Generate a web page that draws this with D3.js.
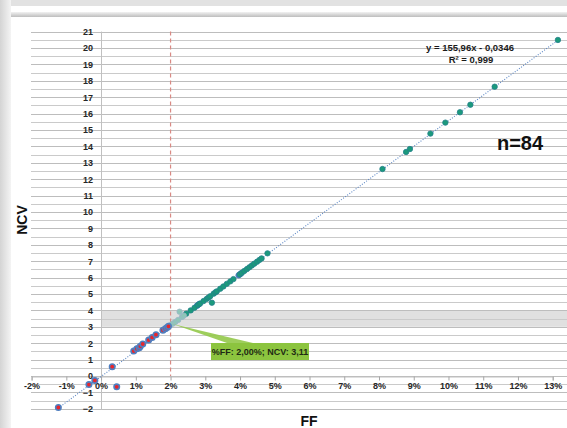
<!DOCTYPE html>
<html>
<head>
<meta charset="utf-8">
<script src="https://cdn.jsdelivr.net/npm/d3@7"></script>
<style>
  body { margin:0; background:#fff; }
  svg { display:block; }
</style>
</head>
<body>
<div id="chart"></div>
<script>

// FF (%) y NCV
var redFF  = [-1.23, -0.35, -0.18, 0.45, 0.32, 0.94, 1.03, 1.10, 1.13, 1.20, 1.37, 1.47, 1.58, 1.78, 1.85, 1.90, 1.94];
var redNCV = [-1.92, -0.52, -0.27, -0.66, 0.57, 1.52, 1.66, 1.72, 1.82, 1.95, 2.19, 2.35, 2.52, 2.79, 2.88, 2.95, 3.03];

var lightFF  = [2.00, 2.07, 2.14, 2.22, 2.26, 2.33, 2.38];
var lightNCV = [3.11, 3.20, 3.30, 3.42, 3.92, 3.60, 3.68];

var tealFF  = [2.45, 2.58, 2.69, 2.79, 2.85, 2.95, 3.04, 3.09, 3.14, 3.19, 3.24, 3.29, 3.33, 3.43, 3.52, 3.62, 3.72, 3.81,
               3.99, 4.05, 4.12, 4.20, 4.27, 4.34, 4.41, 4.49, 4.56, 4.62, 4.79, 8.10, 8.78, 8.89, 9.48, 9.91, 10.33, 10.63, 11.33, 13.15];
var tealNCV = [3.80, 4.00, 4.16, 4.33, 4.42, 4.57, 4.70, 4.78, 4.86, 4.47, 5.02, 5.10, 5.16, 5.32, 5.46, 5.62, 5.77, 5.91,
               6.19, 6.29, 6.40, 6.52, 6.63, 6.74, 6.85, 6.97, 7.08, 7.17, 7.48, 12.62, 13.66, 13.84, 14.78, 15.45, 16.08, 16.54, 17.64, 20.49];

// puntos azules que asoman por debajo
var blueFF  = [2.76, 2.82, 3.96, 4.02];
var blueNCV = [4.28, 4.38, 6.14, 6.24];

var xTicks = [-2, -1, 0, 1, 2, 3, 4, 5, 6, 7, 8, 9, 10, 11, 12, 13];
var yTicks = [-2, -1, 0, 1, 2, 3, 4, 5, 6, 7, 8, 9, 10, 11, 12, 13, 14, 15, 16, 17, 18, 19, 20, 21];

// tendencia y = 155,96x - 0,0346
var slope = 155.96, intercept = -0.0346;
var trendFF = [-1.23, 13.15];
var bandNCV = [3, 4];
var markFF = 2;
var calloutFF = 2.00, calloutNCV = 3.11;

var W = 567, H = 428;
var font = "'Liberation Sans Narrow', 'Liberation Sans', Arial, sans-serif";

var svg = d3.select("#chart").append("svg").attr("width", W).attr("height", H);

// marco / sombra de la captura
var defs = svg.append("defs");
var gl = defs.append("linearGradient").attr("id", "gl").attr("x1", 0).attr("x2", 1).attr("y1", 0).attr("y2", 0);
gl.append("stop").attr("offset", "0%").attr("stop-color", "#d4d4d4");
gl.append("stop").attr("offset", "100%").attr("stop-color", "#f4f4f4");
var gt = defs.append("linearGradient").attr("id", "gt").attr("x1", 0).attr("x2", 0).attr("y1", 0).attr("y2", 1);
gt.append("stop").attr("offset", "0%").attr("stop-color", "#f2f2f2");
gt.append("stop").attr("offset", "100%").attr("stop-color", "#bdbdbd");

svg.append("rect").attr("x", 0).attr("y", 0).attr("width", W).attr("height", 6).attr("fill", "#e2e2e2");
svg.append("rect").attr("x", 0).attr("y", 0).attr("width", 11).attr("height", H).attr("fill", "url(#gl)");
svg.append("rect").attr("x", 11).attr("y", 12).attr("width", W - 11).attr("height", 5).attr("fill", "url(#gt)");

var x = d3.scaleLinear().domain([-2, 13]).range([31.6, 552.7]);
var y = d3.scaleLinear().domain([-2, 21]).range([408.8, 31.6]);

// banda gris entre 3 y 4
svg.append("rect")
	.attr("x", x(0)).attr("y", y(bandNCV[1]))
	.attr("width", W - x(0)).attr("height", y(bandNCV[0]) - y(bandNCV[1]))
	.attr("fill", "#e0e0e0");

// lineas de cuadricula cada 0,5
var half = d3.range(-2, 21.01, 0.5);
svg.append("g").selectAll("line").data(half).enter().append("line")
	.attr("x1", 31).attr("x2", W)
	.attr("y1", function(d) { return Math.round(y(d)) + 0.5; })
	.attr("y2", function(d) { return Math.round(y(d)) + 0.5; })
	.attr("stroke", function(d) { return d % 1 == 0 ? "#bdbdbd" : "#cacaca"; })
	.attr("stroke-width", 1);

// eje vertical en 0%
svg.append("line")
	.attr("x1", Math.round(x(0)) + 0.5).attr("x2", Math.round(x(0)) + 0.5)
	.attr("y1", y(21)).attr("y2", y(-2) + 1)
	.attr("stroke", "#c0c0c0");

// eje horizontal en NCV = 0
var xAxis = d3.axisBottom(x).tickValues(xTicks).tickSize(4).tickFormat(function(d) { return d + "%"; });
var gx = svg.append("g").attr("transform", "translate(0," + (Math.round(y(0)) + 0.5) + ")").call(xAxis);
gx.select(".domain").attr("stroke", "#bfbfbf");
gx.selectAll(".tick line").attr("stroke", "#a6a6a6");
gx.selectAll(".tick text").attr("font-family", font).attr("font-size", "9px").attr("font-weight", "bold")
	.attr("fill", "#262626").attr("dy", "0.95em").attr("y", 4);

var yAxis = d3.axisLeft(y).tickValues(yTicks).tickSize(0).tickPadding(8);
var gy = svg.append("g").attr("transform", "translate(" + x(0) + ",0)").call(yAxis);
gy.select(".domain").remove();
gy.selectAll(".tick text").attr("font-family", font).attr("font-size", "9px").attr("font-weight", "bold").attr("fill", "#262626");

// linea roja discontinua en 2%
svg.append("line")
	.attr("x1", x(markFF)).attr("x2", x(markFF))
	.attr("y1", y(21)).attr("y2", y(0))
	.attr("stroke", "#d98a84").attr("stroke-width", 1.2).attr("stroke-dasharray", "4,3");

// linea de tendencia
svg.append("line")
	.attr("x1", x(trendFF[0])).attr("y1", y(slope * trendFF[0] / 100 + intercept))
	.attr("x2", x(trendFF[1])).attr("y2", y(slope * trendFF[1] / 100 + intercept))
	.attr("stroke", "#5b86c4").attr("stroke-width", 1.1).attr("stroke-dasharray", "1,1.6");

// puntos
function puntos(ffs, ncvs, fill, stroke, sw, r) {
	var data = ffs.map(function(f, i) { return {ff: f, ncv: ncvs[i]}; });
	svg.append("g").selectAll("circle").data(data).enter().append("circle")
		.attr("cx", function(d) { return x(d.ff); })
		.attr("cy", function(d) { return y(d.ncv); })
		.attr("r", r)
		.attr("fill", fill)
		.attr("stroke", stroke)
		.attr("stroke-width", sw);
}
puntos(blueFF, blueNCV, "#4f7fc0", "#4f7fc0", 0.8, 2.8);
puntos(tealFF, tealNCV, "#1b9a7c", "#24808c", 0.8, 2.7);
puntos(lightFF, lightNCV, "#8ec6b8", "#9ab6c8", 0.8, 2.7);
puntos(redFF, redNCV, "#e8262c", "#4f7fc0", 1.6, 2.7);

// etiqueta verde con flecha
var bx = 211, by = 343, bw = 98, bh = 17;
var px = x(calloutFF), py = y(calloutNCV);
svg.append("path")
	.attr("d", "M" + (px + 2) + "," + (py - 1) + " L" + (bx + 42) + "," + by + " L" + (bx + 16) + "," + by + " Z")
	.attr("fill", "#93c94a").attr("opacity", 0.9);
svg.append("rect").attr("x", bx).attr("y", by).attr("width", bw).attr("height", bh).attr("fill", "#8cc43f");
svg.append("text")
	.attr("x", bx + bw / 2).attr("y", by + 12)
	.attr("text-anchor", "middle")
	.attr("font-family", font).attr("font-size", "9px").attr("font-weight", "bold")
	.attr("fill", "#1e2a14")
	.text("%FF: 2,00%; NCV: 3,11");

// ecuacion y R2
svg.append("text").attr("x", 470).attr("y", 51).attr("text-anchor", "middle")
	.attr("font-family", font).attr("font-size", "9.5px").attr("font-weight", "bold").attr("fill", "#1a1a1a")
	.text("y = 155,96x - 0,0346");
svg.append("text").attr("x", 471).attr("y", 63).attr("text-anchor", "middle")
	.attr("font-family", font).attr("font-size", "9.5px").attr("font-weight", "bold").attr("fill", "#1a1a1a")
	.text("R² = 0,999");

svg.append("text").attr("x", 520).attr("y", 150).attr("text-anchor", "middle")
	.attr("font-family", "'Liberation Sans', Arial, sans-serif").attr("font-size", "20px").attr("font-weight", "bold").attr("fill", "#111")
	.text("n=84");

// titulos de ejes
svg.append("text").attr("transform", "translate(27,220) rotate(-90)").attr("text-anchor", "middle")
	.attr("font-family", "'Liberation Sans', Arial, sans-serif").attr("font-size", "14px").attr("font-weight", "bold").attr("fill", "#111")
	.text("NCV");
svg.append("text").attr("x", 309).attr("y", 426).attr("text-anchor", "middle")
	.attr("font-family", "'Liberation Sans', Arial, sans-serif").attr("font-size", "14px").attr("font-weight", "bold").attr("fill", "#111")
	.text("FF");

</script>
</body>
</html>
